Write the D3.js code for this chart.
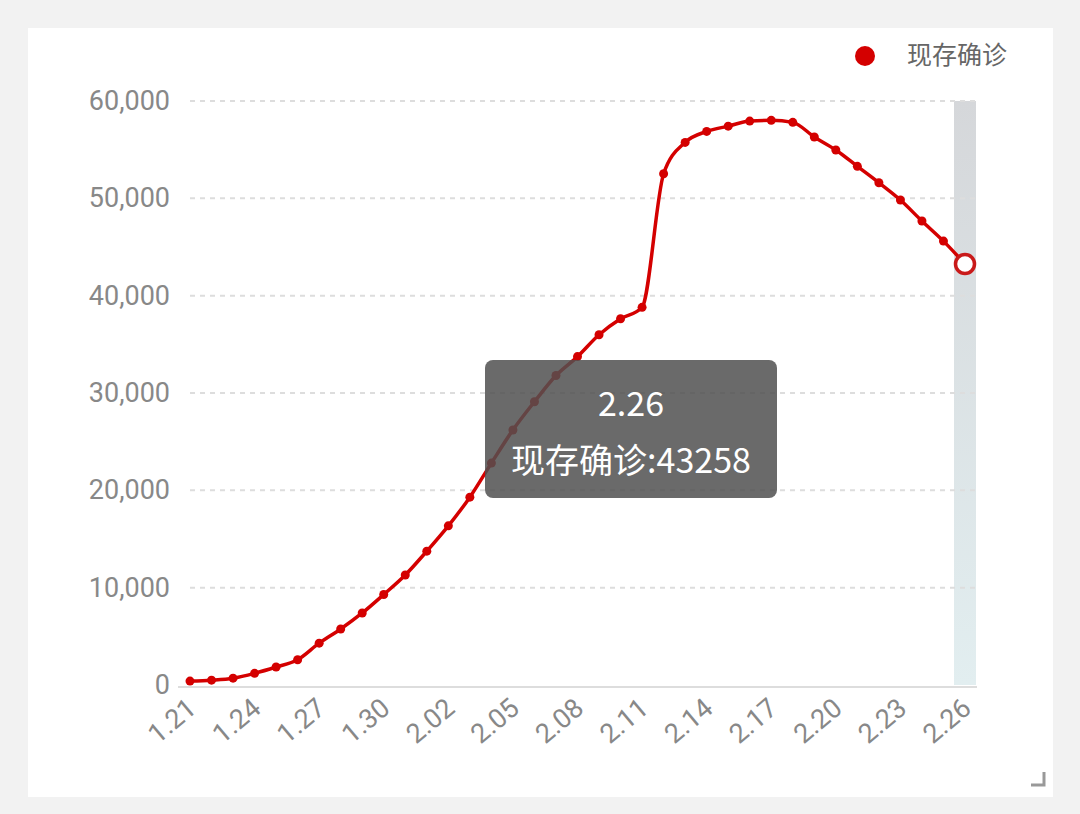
<!DOCTYPE html><html><head><meta charset="utf-8">
<script src="https://cdn.jsdelivr.net/npm/d3@7"></script>
<style>body{margin:0;background:#f2f2f2;font-family:"Noto Sans CJK SC","Noto Sans",sans-serif}</style></head><body>
<svg id="c" width="1080" height="814"></svg>
<script>
const dates=["1.21","1.22","1.23","1.24","1.25","1.26","1.27","1.28","1.29","1.30","1.31","2.01","2.02","2.03","2.04","2.05","2.06","2.07","2.08","2.09","2.10","2.11","2.12","2.13","2.14","2.15","2.16","2.17","2.18","2.19","2.20","2.21","2.22","2.23","2.24","2.25","2.26"];
const values=[400,500,700,1200,1850,2600,4300,5750,7400,9300,11300,13750,16350,19300,22800,26200,29100,31800,33738,35982,37626,38800,52526,55748,56873,57416,57934,58016,57805,56303,54965,53284,51606,49824,47672,45604,43258];
const yTicks=[0,10000,20000,30000,40000,50000,60000];
const seriesName="现存确诊";
const svg=d3.select("#c");
svg.append("rect").attr("x",28).attr("y",28).attr("width",1025).attr("height",769).attr("fill","#fff");
const x=d3.scalePoint().domain(dates).range([190,965]);
const y=d3.scaleLinear().domain([0,60000]).range([685,101]);
const defs=svg.append("defs");
const g=defs.append("linearGradient").attr("id","bg").attr("x1",0).attr("x2",0).attr("y1",0).attr("y2",1);
g.append("stop").attr("offset",0).attr("stop-color","#d5d7da");
g.append("stop").attr("offset",1).attr("stop-color","#e2eef0");
svg.append("rect").attr("x",x("2.26")-11).attr("y",y(60000)).attr("width",22).attr("height",y(0)-y(60000)).attr("fill","url(#bg)");
svg.selectAll(".gl").data(yTicks.slice(1)).join("line").attr("x1",190).attr("x2",977).attr("y1",d=>y(d)).attr("y2",d=>y(d)).attr("stroke","#ddd").attr("stroke-width",2).attr("stroke-dasharray","5,5");
svg.append("line").attr("x1",178).attr("x2",977).attr("y1",y(0)+2).attr("y2",y(0)+2).attr("stroke","#ddd").attr("stroke-width",2);
svg.selectAll(".yl").data(yTicks).join("text").attr("x",170).attr("y",d=>y(d)+9).attr("text-anchor","end").attr("font-family","Roboto").attr("font-size",27).attr("fill","#888").text(d3.format(","));
svg.selectAll(".xl").data(dates.filter((d,i)=>i%3==0)).join("text").attr("transform",d=>`translate(${x(d)+8},${y(0)+26}) rotate(-40)`).attr("text-anchor","end").attr("font-family","Roboto").attr("font-size",27).attr("fill","#888").text(d=>d);
svg.append("path").datum(values).attr("d",d3.line().x((d,i)=>x(dates[i])).y(d=>y(d)).curve(d3.curveMonotoneX)).attr("fill","none").attr("stroke","#d40000").attr("stroke-width",3.5);
svg.selectAll(".pt").data(values.slice(0,-1)).join("circle").attr("cx",(d,i)=>x(dates[i])).attr("cy",d=>y(d)).attr("r",4.5).attr("fill","#d40000");
const n=values.length-1;
svg.append("circle").attr("cx",x(dates[n])).attr("cy",y(values[n])).attr("r",9.5).attr("fill","#fff").attr("stroke","#c91a1a").attr("stroke-width",3.5);
svg.append("circle").attr("cx",865).attr("cy",56).attr("r",10).attr("fill","#d40000");
svg.append("text").attr("x",907).attr("y",64).attr("font-size",25).attr("fill","#666").text(seriesName);
svg.append("rect").attr("x",485).attr("y",360).attr("width",292).attr("height",138).attr("rx",8).attr("fill","rgba(80,80,80,0.85)");
svg.append("text").attr("x",631).attr("y",416).attr("text-anchor","middle").attr("font-size",34).attr("fill","#fff").text(dates[n]);
svg.append("text").attr("x",631).attr("y",473).attr("text-anchor","middle").attr("font-size",34).attr("fill","#fff").text(seriesName+":"+values[n]);
svg.append("path").attr("d","M1031,785 H1044 V772").attr("fill","none").attr("stroke","#999").attr("stroke-width",3);
</script></body></html>
